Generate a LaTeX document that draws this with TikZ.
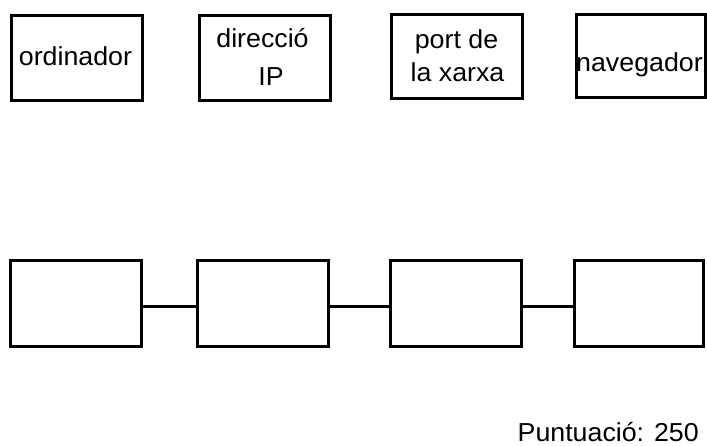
\documentclass[tikz,border=0pt]{standalone}
\usepackage{fontspec}
\setmainfont{Liberation Sans}[FakeStretch=1.03]
\begin{document}
\begin{tikzpicture}[x=1pt,y=-1pt,
  box/.style={draw=black,line width=3pt,fill=white,inner sep=0pt,
    minimum width=131pt,minimum height=85pt},
  label/.style={anchor=base,inner sep=0pt,font=\fontsize{26}{30}\selectfont},
  link/.style={draw=black,line width=3pt}]
  \useasboundingbox[fill=white] (0,0) rectangle (707,445);

  % upper row of boxes
  \node[box] (t1) at (77,58) {};
  \node[box] (t2) at (265,58) {};
  \node[box,minimum height=84pt] (t3) at (457,56.5) {};
  \node[box,minimum width=129pt,minimum height=83pt] (t4) at (640.5,56) {};

  % labels of the upper row
  \node[label] (l1) at (75.5,65) {ordinador};
  \node[label] (l2a) at (262.5,47) {direcció};
  \node[label] (l2b) at (271,85) {IP};
  \node[label] (l3a) at (456.5,48) {port de};
  \node[label] (l3b) at (457.5,81) {la xarxa};
  \node[label,anchor=base west] (l4) at (576,71.5) {navegador};

  % lower row of empty boxes, chained together
  \node[box,minimum height=86pt] (b1) at (76,303.5) {};
  \node[box,minimum height=86pt] (b2) at (263,303.5) {};
  \node[box,minimum height=86pt] (b3) at (456,303.5) {};
  \node[box,minimum width=129pt,minimum height=86pt] (b4) at (639,303.5) {};

  \draw[link] ([yshift=-2.5pt]b1.east) -- ([yshift=-2.5pt]b2.west);
  \draw[link] ([yshift=-2.5pt]b2.east) -- ([yshift=-2.5pt]b3.west);
  \draw[link] ([yshift=-2.5pt]b3.east) -- ([yshift=-2.5pt]b4.west);

  % score
  \node[label,anchor=base east] (score) at (699,441) {Puntuació: 250};
\end{tikzpicture}
\end{document}
